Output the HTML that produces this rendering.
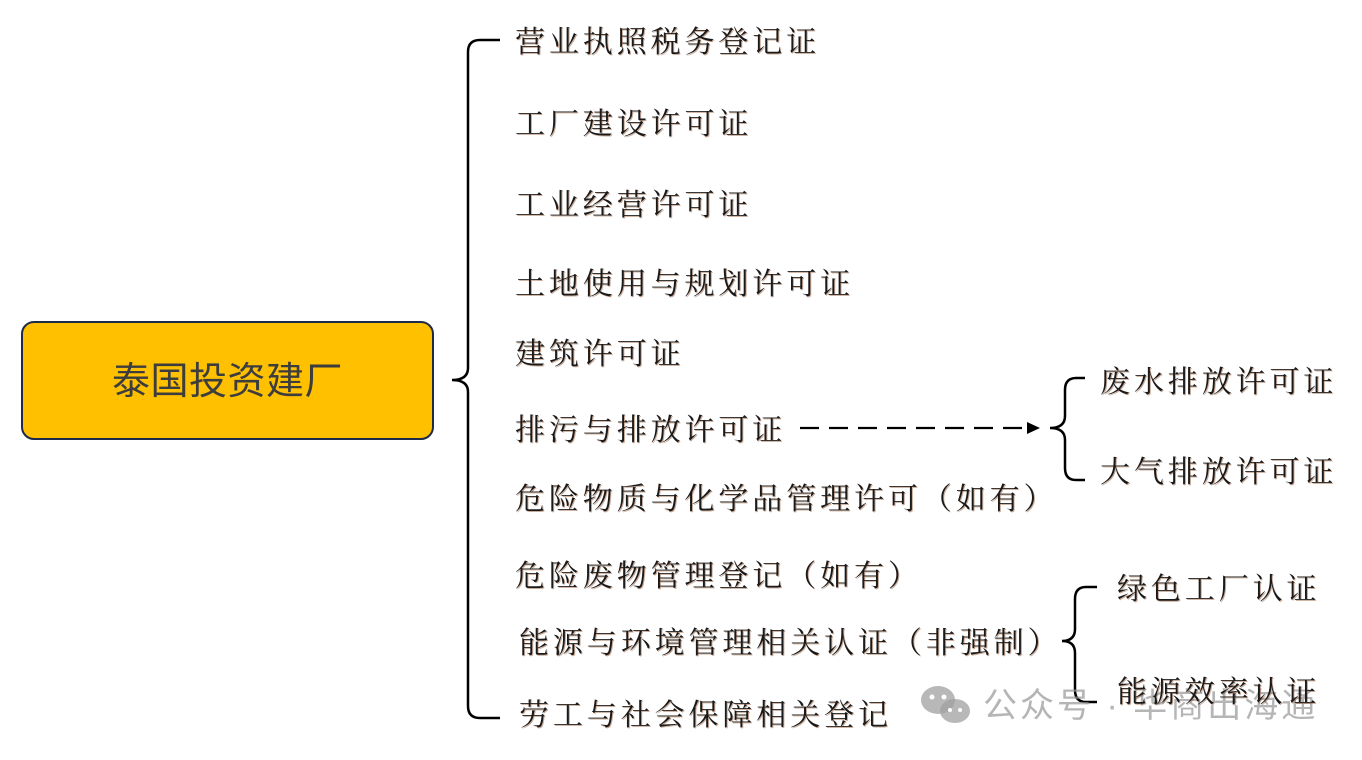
<!DOCTYPE html>
<html><head><meta charset="utf-8"><style>
body{margin:0;width:1362px;height:760px;background:#fff;position:relative;overflow:hidden}
.t{position:absolute;font-family:"Liberation Serif","Noto Serif CJK SC",serif;font-size:30px;letter-spacing:3.9px;color:#1a1a1a;white-space:nowrap;line-height:1;text-shadow:1px 1px 0 rgba(140,70,30,0.45)}
.box{position:absolute;left:21px;top:321px;width:413px;height:119px;background:#FFC000;border:2px solid #1f2a4a;border-radius:13px;box-sizing:border-box}
.bt{position:absolute;left:21px;top:323px;width:413px;height:119px;line-height:119px;text-align:center;font-family:"Liberation Sans","Noto Sans CJK SC",sans-serif;font-size:38px;letter-spacing:0.5px;color:#3d3d3d}
.wm{position:absolute;left:983px;top:689px;font-family:"Liberation Sans","Noto Sans CJK SC",sans-serif;font-size:34px;letter-spacing:3px;color:rgba(150,150,150,0.7);white-space:nowrap;line-height:1}
</style></head><body>
<div class="box"></div><div class="bt">泰国投资建厂</div>
<svg width="1362" height="760" style="position:absolute;left:0;top:0">
<g fill="none" stroke="#000" stroke-width="2.5">
<path d="M500 40 H480 Q468 40 468 52 V368 Q468 380 452 380 Q468 380 468 392 V706 Q468 718 480 718 H500"/>
<path d="M1085 378 H1076 Q1065 378 1065 390 V416 Q1065 428 1050 428 Q1065 428 1065 440 V468 Q1065 480 1076 480 H1085"/>
<path d="M1097 587 H1086 Q1075 587 1075 599 V629 Q1075 641 1062 641 Q1075 641 1075 653 V690 Q1075 702 1086 702 H1097"/>
<path d="M800 428 H1030" stroke-dasharray="19,10" stroke-width="2.3"/>
</g>
<path d="M1040 428 L1027 422 L1027 434 Z" fill="#000"/>
<g fill="rgba(160,160,160,0.75)">
<ellipse cx="938" cy="700" rx="17" ry="14"/>
<ellipse cx="955" cy="711" rx="15" ry="12"/>
</g>
<g fill="#fff"><circle cx="932" cy="697" r="2.5"/><circle cx="944" cy="697" r="2.5"/><circle cx="950" cy="710" r="2"/><circle cx="960" cy="710" r="2"/></g>
</svg>
<div class="wm">公众号 · 华商出海通</div>
<div class="t" style="left:515px;top:28px">营业执照税务登记证</div>
<div class="t" style="left:515px;top:110px">工厂建设许可证</div>
<div class="t" style="left:515px;top:191px">工业经营许可证</div>
<div class="t" style="left:515px;top:270px">土地使用与规划许可证</div>
<div class="t" style="left:515px;top:340px">建筑许可证</div>
<div class="t" style="left:515px;top:416px">排污与排放许可证</div>
<div class="t" style="left:515px;top:485px">危险物质与化学品管理许可（如有）</div>
<div class="t" style="left:515px;top:562px">危险废物管理登记（如有）</div>
<div class="t" style="left:519px;top:629px">能源与环境管理相关认证（非强制）</div>
<div class="t" style="left:519px;top:701px">劳工与社会保障相关登记</div>
<div class="t" style="left:1100px;top:368px">废水排放许可证</div>
<div class="t" style="left:1100px;top:458px">大气排放许可证</div>
<div class="t" style="left:1117px;top:575px">绿色工厂认证</div>
<div class="t" style="left:1117px;top:678px">能源效率认证</div>
</body></html>
